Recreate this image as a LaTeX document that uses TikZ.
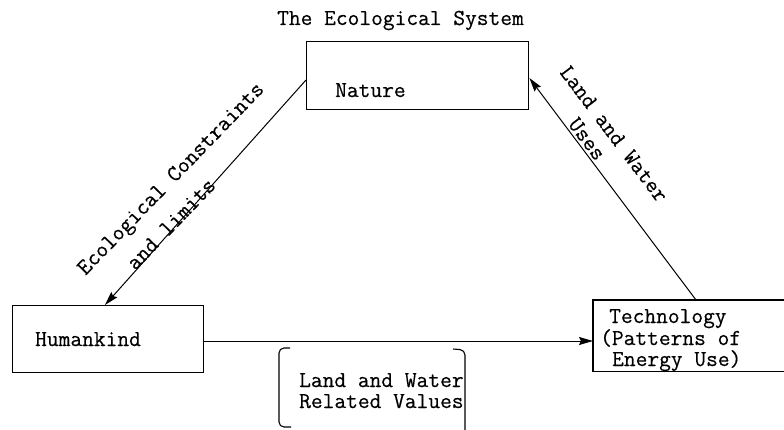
\documentclass[tikz,border=0pt]{standalone}
\usepackage{fontspec}
\setmonofont{Latin Modern Mono}[FakeBold=0.4]
\usetikzlibrary{arrows.meta}
\begin{document}
\begin{tikzpicture}[x=1pt,y=-1pt,
  txt/.style={font=\ttfamily\fontsize{22.8}{21}\selectfont, inner sep=0pt, anchor=base west},
  rtxt/.style={font=\ttfamily\fontsize{22.8}{21}\selectfont, inner sep=0pt, anchor=center},
  boxnode/.style={draw, line width=1.4pt, inner sep=0pt, anchor=north west},
  conn/.style={line width=1pt, -{Stealth[length=14pt,width=8pt,inset=2pt]}},
]
\useasboundingbox (0,0) rectangle (784,430);
% boxes
\node[boxnode, minimum width=222pt, minimum height=68pt] (nature) at (306,41) {};
\node[boxnode, minimum width=191pt, minimum height=67pt] (hum) at (12,305) {};
\node[boxnode, draw=none, minimum width=191pt, minimum height=70pt] (tech) at (593,300) {};
\draw[line width=1.4pt] (tech.north east) -- (tech.north west) -- (tech.south west) -- (tech.south east);
% texts
\node[txt] (title) at (277,25) {The Ecological System};
\node[txt] (naturelbl) at (335,97) {Nature};
\node[txt] (humlbl) at (35,346) {Humankind};
\node[txt] (tech1) at (609,323) {Technology};
\node[txt] (tech2) at (600,345) {(Patterns of};
\node[txt] (tech3) at (612,366) {Energy Use)};
\node[txt] (val1) at (299,387) {Land and Water};
\node[txt] (val2) at (299,408) {Related Values};
% rotated labels
\node[rtxt, rotate=46] (ecl1) at (172,180) {Ecological Constraints};
\node[rtxt, rotate=46] (ecl2) at (171,224) {and limits};
\node[rtxt, rotate=-53] (luw1) at (614,134) {Land and Water};
\node[rtxt, rotate=-53] (luw2) at (587,139) {Uses};
% connectors
\draw[conn] ([yshift=-39pt]nature.north west) -- ([xshift=93pt]hum.north west);
\draw[conn] ([xshift=103pt]tech.north west) -- ([yshift=-37pt]nature.north east);
\draw[conn] ([yshift=-36pt]hum.north east) -- ([yshift=-41pt]tech.north west);
% brackets
\draw[line width=1.1pt, rounded corners=5pt] (290,348) -- (279,348) -- (279,427) -- (291,427);
\draw[line width=1.1pt, rounded corners=5pt] (453,349) -- (465,350) -- (465,431);
\end{tikzpicture}
\end{document}
